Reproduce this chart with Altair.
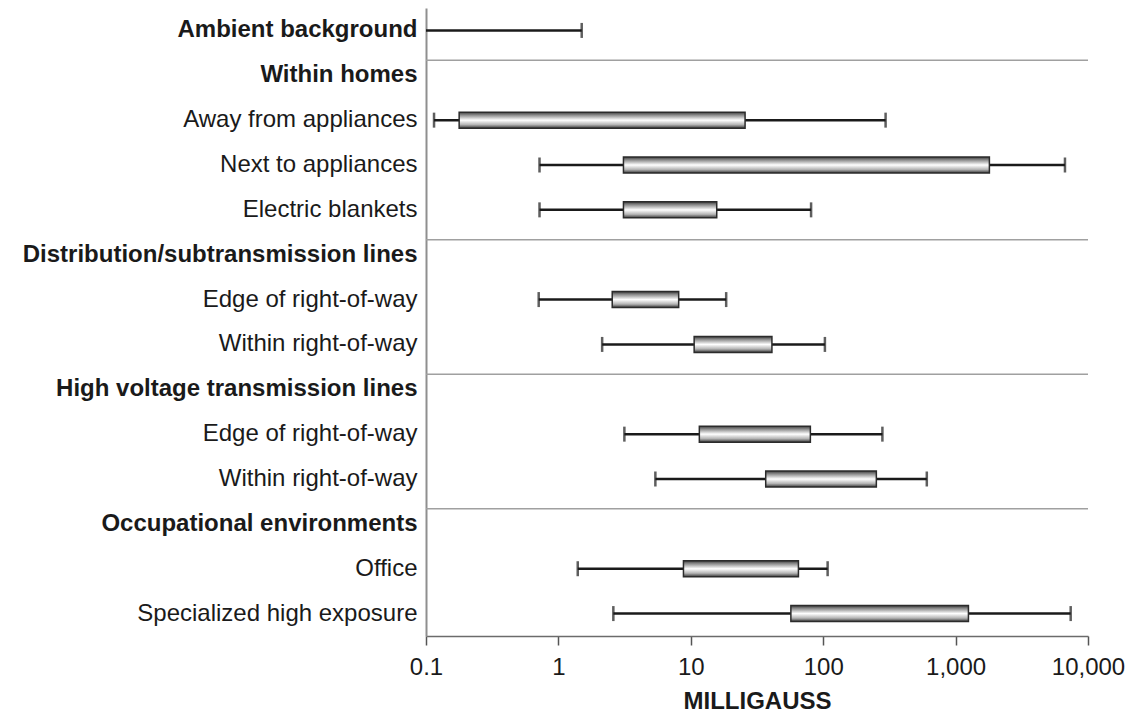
import altair as alt
import pandas as pd

# ---- data ----
categories = [
    "Ambient background",
    "Within homes",
    "Away from appliances",
    "Next to appliances",
    "Electric blankets",
    "Distribution/subtransmission lines",
    "Edge of right-of-way",
    "Within right-of-way",
    "High voltage transmission lines",
    "Edge of right-of-way ",
    "Within right-of-way ",
    "Occupational environments",
    "Office",
    "Specialized high exposure",
]
headers = [
    "Ambient background",
    "Within homes",
    "Distribution/subtransmission lines",
    "High voltage transmission lines",
    "Occupational environments",
]
low = [0.1, None, 0.115, 0.72, 0.72, None, 0.71, 2.14, None, 3.15, 5.4, None, 1.4, 2.6]
q1 = [None, None, 0.178, 3.1, 3.1, None, 2.55, 10.6, None, 11.6, 36.8, None, 8.8, 57]
q3 = [None, None, 25.7, 1800, 15.7, None, 8.1, 41, None, 80, 252, None, 65, 1250]
high = [1.5, None, 296, 6700, 81, None, 18.5, 103, None, 280, 606, None, 108, 7400]
tick_values = [0.1, 1, 10, 100, 1000, 10000]

df = pd.DataFrame({"cat": categories, "low": low, "q1": q1, "q3": q3, "high": high})
sep_df = pd.DataFrame({"cat": headers[1:]})

W = 662
H = 628
FONT = "Liberation Sans"

header_list = "[" + ",".join("'" + h.replace("'", "\\'") + "'" for h in headers) + "]"

xscale = alt.Scale(type="log", domain=[0.1, 10000], nice=False)
xaxis = alt.Axis(
    values=tick_values, format=",", grid=False,
    domainColor="#6b6b6b", domainWidth=1.5,
    tickColor="#555555", tickWidth=1.5, tickSize=9,
    labelFont=FONT, labelFontSize=24, labelColor="#1a1a1a", labelPadding=10,
    labelFlush=False, labelOverlap=False,
    titleFont=FONT, titleFontSize=24, titleFontWeight="bold", titleColor="#1a1a1a",
    titlePadding=10,
)
yaxis = alt.Axis(
    ticks=False, grid=False, domain=True, domainColor="#8f8f8f", domainWidth=2,
    labelFont=FONT, labelFontSize=24, labelColor="#1a1a1a", labelPadding=9,
    labelLimit=600, minExtent=418, maxExtent=418,
    labelFontWeight={"condition": {"test": f"indexof({header_list}, datum.value) >= 0",
                                   "value": "bold"}, "value": "normal"},
)
yenc = alt.Y("cat:N", scale=alt.Scale(domain=categories, paddingInner=0, paddingOuter=0),
             axis=yaxis, title=None)


def xenc(field):
    return alt.X(f"{field}:Q", scale=xscale, axis=xaxis, title="MILLIGAUSS")


base = alt.Chart(df)

separators = alt.Chart(sep_df).mark_rule(color="#a0a0a0", strokeWidth=1.5, yOffset=-15).encode(
    y=yenc, x=alt.value(0), x2=alt.value(W)
)

whiskers = base.mark_rule(color="#1a1a1a", strokeWidth=2.5).encode(
    y=yenc, x=xenc("low"), x2="high:Q"
)

cap_low = base.transform_filter("datum.low > 0.1").mark_tick(
    color="#1a1a1a", thickness=2.5, size=15
).encode(y=yenc, x=xenc("low"))

cap_high = base.mark_tick(color="#1a1a1a", thickness=2.5, size=15).encode(
    y=yenc, x=xenc("high")
)

grad = alt.Gradient(
    gradient="linear",
    stops=[
        alt.GradientStop(color="#3c3c3c", offset=0),
        alt.GradientStop(color="#8a8a8a", offset=0.18),
        alt.GradientStop(color="#ffffff", offset=0.5),
        alt.GradientStop(color="#b5b5b5", offset=0.78),
        alt.GradientStop(color="#3a3a3a", offset=1),
    ],
    x1=0, x2=0, y1=0, y2=1,
)

boxes = base.mark_bar(size=16, fill=grad, stroke="#2b2b2b", strokeWidth=1.5).encode(
    y=yenc, x=xenc("q1"), x2="q3:Q"
)

chart = alt.layer(separators, whiskers, cap_low, cap_high, boxes).properties(
    width=W, height=H, padding=0
).configure_view(stroke=None)

chart.save("out.html", embed_options={"renderer": "svg", "actions": False})
